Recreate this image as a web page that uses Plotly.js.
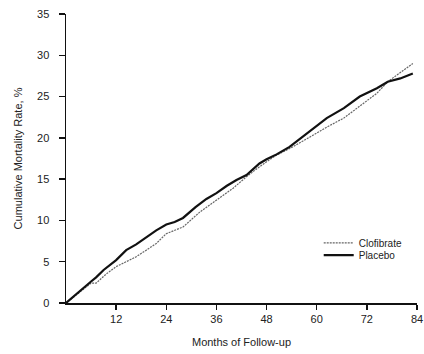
<!DOCTYPE html>
<html>
<head>
<meta charset="utf-8">
<script src="https://cdn.plot.ly/plotly-3.0.1.min.js"></script>
<style>html,body{margin:0;padding:0;background:#fff;}#chart{width:424px;height:354px;}</style>
</head>
<body>
<div id="chart"></div>
<script>
const placeboMonths = [0, 2, 4, 6, 7.2, 9, 12, 14.4, 16.8, 19.2, 21.6, 24, 26, 28, 31, 33.6, 36, 38.5, 40.8, 43.2, 46.3, 48, 50.4, 53.5, 56, 58.4, 62.4, 66.5, 70.3, 74.4, 77, 80, 83];
const placeboRate = [0, 0.9, 1.8, 2.6, 3.1, 4.0, 5.2, 6.4, 7.1, 8.0, 8.8, 9.5, 9.8, 10.3, 11.6, 12.6, 13.3, 14.2, 14.9, 15.5, 16.9, 17.4, 18.0, 18.9, 19.9, 20.9, 22.4, 23.6, 25.0, 26.0, 26.8, 27.2, 27.8];
const clofibrateMonths = [0, 2, 4, 6, 7.2, 9.6, 12, 14.4, 16.8, 19.2, 21.6, 24, 28, 32, 36, 40, 43.2, 46.3, 50, 53.5, 58.4, 62.4, 66.5, 70.3, 74.4, 77, 80, 83];
const clofibrateRate = [0, 0.8, 1.7, 2.4, 2.4, 3.5, 4.4, 5.0, 5.6, 6.4, 7.2, 8.4, 9.2, 11.0, 12.5, 13.9, 15.3, 16.5, 17.8, 18.7, 20.1, 21.3, 22.4, 23.8, 25.4, 26.8, 27.9, 29.0];
const xTicks = [12, 24, 36, 48, 60, 72, 84];
const yTicks = [0, 5, 10, 15, 20, 25, 30, 35];

const traces = [
  {x: clofibrateMonths, y: clofibrateRate, name: 'Clofibrate', mode: 'lines', legend: 'legend',
   line: {color: '#666', width: 1.2, dash: '2px,1px'}},
  {x: placeboMonths, y: placeboRate, name: 'Placebo', mode: 'lines', legend: 'legend2',
   line: {color: '#111', width: 2.2}}
];
const fnt = {family: 'Liberation Sans, Arial, sans-serif', size: 11, color: '#222'};
const legFont = {family: fnt.family, size: 10, color: '#222'};
const layout = {
  width: 424, height: 354,
  margin: {l: 66, r: 7, t: 14, b: 51},
  paper_bgcolor: '#fff', plot_bgcolor: '#fff',
  font: fnt,
  showlegend: true,
  legend: {x: 0.72, y: 0.208, xanchor: 'left', yanchor: 'middle', font: legFont, bgcolor: 'rgba(0,0,0,0)'},
  legend2: {x: 0.72, y: 0.166, xanchor: 'left', yanchor: 'middle', font: legFont, bgcolor: 'rgba(0,0,0,0)'},
  xaxis: {range: [0, 84], tickvals: xTicks, ticks: 'outside', ticklen: 5, tickwidth: 1.5, tickcolor: '#111',
          ticklabeloverflow: 'allow',
          showline: true, linecolor: '#111', linewidth: 1.5, showgrid: false, zeroline: false,
          title: {text: 'Months of Follow-up', font: fnt, standoff: 14}},
  yaxis: {range: [0, 35], tickvals: yTicks, ticks: 'outside', ticklen: 6, tickwidth: 1.5, tickcolor: '#111',
          ticklabelstandoff: 7,
          showline: true, linecolor: '#111', linewidth: 1.5, showgrid: false, zeroline: false,
          title: {text: 'Cumulative Mortality Rate, %', font: fnt, standoff: 12}}
};
Plotly.newPlot('chart', traces, layout, {displayModeBar: false, staticPlot: true});
</script>
</body>
</html>
